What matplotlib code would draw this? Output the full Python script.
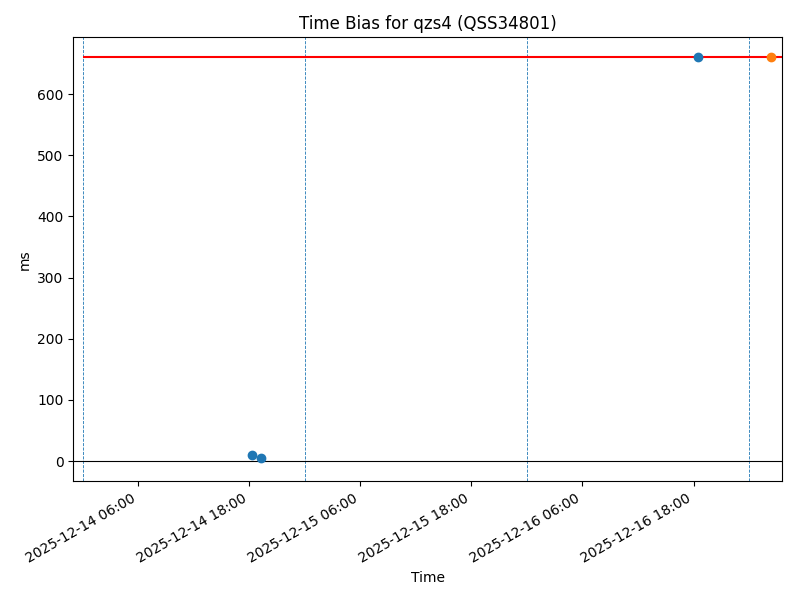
import numpy as np
import pandas as pd
import matplotlib
matplotlib.use('Agg')
import matplotlib.pyplot as plt
import matplotlib.dates as mdates

# measured time bias points (ms)
bias_times = pd.to_datetime(['2025-12-14 18:19', '2025-12-14 19:14', '2025-12-16 18:32'])
bias_values = [10.3, 4.3, 660.0]

# latest point
latest_time = pd.to_datetime(['2025-12-17 02:24'])
latest_value = [660.0]

# threshold line
threshold = 660.0
threshold_span = pd.to_datetime(['2025-12-14 00:00', '2025-12-17 06:00'])

# day boundaries
midnights = pd.to_datetime(['2025-12-14', '2025-12-15', '2025-12-16', '2025-12-17'])

xlim = pd.to_datetime(['2025-12-13 23:00', '2025-12-17 03:36'])

fig, ax = plt.subplots(figsize=(8, 6), dpi=100)

for d in midnights:
    ax.axvline(d, color='#1f77b4', linestyle='--', linewidth=0.6)
ax.axhline(0, color='black', linewidth=0.8)
ax.hlines(threshold, threshold_span[0], threshold_span[1], color='red', linewidth=1.5)

ax.scatter(bias_times, bias_values, color='C0', zorder=3)
ax.scatter(latest_time, latest_value, color='C1', zorder=3)

ax.set_xlim(xlim[0], xlim[1])
ax.xaxis.set_major_locator(mdates.HourLocator(byhour=[6, 18]))
ax.xaxis.set_major_formatter(mdates.DateFormatter('%Y-%m-%d %H:%M'))
fig.autofmt_xdate()

ax.set_title('Time Bias for qzs4 (QSS34801)')
ax.set_xlabel('Time')
ax.set_ylabel('ms')

fig.subplots_adjust(left=0.0916, right=0.978, top=0.938, bottom=0.198)
fig.savefig('out.png')
